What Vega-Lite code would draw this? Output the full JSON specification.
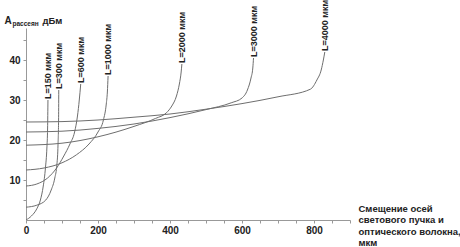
{
  "$schema": "https://vega.github.io/schema/vega-lite/v6.json",
  "width": 324,
  "height": 192,
  "autosize": {"type": "none"},
  "padding": {"left": 26, "top": 28, "right": 110, "bottom": 27},
  "background": "white",
  "config": {"view": {"stroke": null}, "font": "Liberation Sans"},
  "datasets": {
    "curves": [
      {"L": "150", "x": 0, "y": 0}, {"L": "150", "x": 15, "y": 1}, {"L": "150", "x": 30, "y": 2.8}, {"L": "150", "x": 40, "y": 5}, {"L": "150", "x": 48, "y": 8.5}, {"L": "150", "x": 54, "y": 13}, {"L": "150", "x": 58, "y": 18}, {"L": "150", "x": 60, "y": 23}, {"L": "150", "x": 61, "y": 30},
      {"L": "300", "x": 0, "y": 3.2}, {"L": "300", "x": 30, "y": 3.7}, {"L": "300", "x": 55, "y": 5}, {"L": "300", "x": 70, "y": 7.5}, {"L": "300", "x": 80, "y": 10.5}, {"L": "300", "x": 86, "y": 14}, {"L": "300", "x": 89, "y": 19}, {"L": "300", "x": 90.5, "y": 25}, {"L": "300", "x": 91, "y": 32.5},
      {"L": "600", "x": 0, "y": 8.5}, {"L": "600", "x": 30, "y": 9}, {"L": "600", "x": 60, "y": 10.5}, {"L": "600", "x": 85, "y": 13}, {"L": "600", "x": 105, "y": 16}, {"L": "600", "x": 122, "y": 19}, {"L": "600", "x": 135, "y": 22}, {"L": "600", "x": 143, "y": 26}, {"L": "600", "x": 148, "y": 30}, {"L": "600", "x": 152, "y": 34},
      {"L": "1000", "x": 0, "y": 12.5}, {"L": "1000", "x": 50, "y": 13}, {"L": "1000", "x": 100, "y": 14.3}, {"L": "1000", "x": 140, "y": 16.3}, {"L": "1000", "x": 175, "y": 19}, {"L": "1000", "x": 200, "y": 22}, {"L": "1000", "x": 215, "y": 25}, {"L": "1000", "x": 223, "y": 29}, {"L": "1000", "x": 226, "y": 32}, {"L": "1000", "x": 228, "y": 36},
      {"L": "2000", "x": 0, "y": 18.7}, {"L": "2000", "x": 100, "y": 19.2}, {"L": "2000", "x": 200, "y": 20.8}, {"L": "2000", "x": 300, "y": 23.4}, {"L": "2000", "x": 360, "y": 25.4}, {"L": "2000", "x": 390, "y": 26.8}, {"L": "2000", "x": 405, "y": 28.5}, {"L": "2000", "x": 418, "y": 31}, {"L": "2000", "x": 426, "y": 34}, {"L": "2000", "x": 431, "y": 37}, {"L": "2000", "x": 433, "y": 39},
      {"L": "3000", "x": 0, "y": 22}, {"L": "3000", "x": 100, "y": 22.2}, {"L": "3000", "x": 200, "y": 22.9}, {"L": "3000", "x": 300, "y": 24}, {"L": "3000", "x": 400, "y": 25.6}, {"L": "3000", "x": 500, "y": 27.6}, {"L": "3000", "x": 570, "y": 29.3}, {"L": "3000", "x": 600, "y": 30.5}, {"L": "3000", "x": 615, "y": 32.5}, {"L": "3000", "x": 625, "y": 35.5}, {"L": "3000", "x": 630, "y": 38}, {"L": "3000", "x": 632, "y": 40.5},
      {"L": "4000", "x": 0, "y": 24.5}, {"L": "4000", "x": 100, "y": 24.6}, {"L": "4000", "x": 200, "y": 25}, {"L": "4000", "x": 300, "y": 25.7}, {"L": "4000", "x": 400, "y": 26.5}, {"L": "4000", "x": 500, "y": 27.7}, {"L": "4000", "x": 600, "y": 29.1}, {"L": "4000", "x": 700, "y": 30.8}, {"L": "4000", "x": 790, "y": 32.7}, {"L": "4000", "x": 808, "y": 35}, {"L": "4000", "x": 820, "y": 37.5}, {"L": "4000", "x": 826, "y": 40}, {"L": "4000", "x": 830, "y": 42}
    ],
    "labels": [
      {"label": "L=150 мкм", "x": 61, "y": 30},
      {"label": "L=300 мкм", "x": 91, "y": 32.5},
      {"label": "L=600 мкм", "x": 152, "y": 34},
      {"label": "L=1000 мкм", "x": 228, "y": 36},
      {"label": "L=2000 мкм", "x": 433, "y": 39},
      {"label": "L=3000 мкм", "x": 632, "y": 40.5},
      {"label": "L=4000 мкм", "x": 830, "y": 42}
    ]
  },
  "layer": [
    {
      "data": {"name": "curves"},
      "mark": {"type": "line", "interpolate": "monotone", "color": "#6e6e6e", "strokeWidth": 1},
      "encoding": {
        "x": {
          "field": "x", "type": "quantitative",
          "scale": {"domain": [0, 900], "nice": false, "zero": false},
          "axis": {
            "values": [0, 50, 100, 150, 200, 250, 300, 350, 400, 450, 500, 550, 600, 650, 700, 750, 800, 850, 900],
            "labelExpr": "datum.value % 200 === 0 ? datum.label : ''",
            "grid": false, "domainColor": "#999999", "tickColor": "#999999", "tickSize": 3,
            "labelFont": "Liberation Sans", "labelFontSize": 10, "labelFontWeight": "bold", "labelColor": "#222222",
            "labelPadding": 2, "labelFlush": false, "labelOverlap": false,
            "title": ["Смещение осей", "светового пучка и", "оптического волокна,", "мкм"],
            "titleX": 332, "titleY": -17, "titleAlign": "left", "titleBaseline": "top", "titleAngle": 0,
            "titleFont": "Liberation Sans", "titleFontSize": 9.5, "titleFontWeight": "bold", "titleLineHeight": 11.5, "titleColor": "#222222"
          }
        },
        "y": {
          "field": "y", "type": "quantitative",
          "scale": {"domain": [0, 48], "nice": false},
          "axis": {
            "values": [5, 10, 15, 20, 25, 30, 35, 40, 45],
            "labelExpr": "datum.value % 10 === 0 ? datum.label : ''",
            "grid": false, "domainColor": "#999999", "tickColor": "#999999", "tickSize": 3,
            "labelFont": "Liberation Sans", "labelFontSize": 10, "labelFontWeight": "bold", "labelColor": "#222222",
            "labelPadding": 3,
            "title": "A", "titleX": -22, "titleY": -5, "titleAngle": 0, "titleAlign": "left", "titleBaseline": "alphabetic",
            "titleFont": "Liberation Sans", "titleFontSize": 10, "titleFontWeight": "bold", "titleColor": "#222222"
          }
        },
        "detail": {"field": "L", "type": "nominal"}
      }
    },
    {
      "data": {"name": "labels"},
      "mark": {"type": "text", "angle": 270, "align": "left", "baseline": "middle", "fontSize": 9, "fontWeight": "bold", "font": "Liberation Sans", "color": "#222222", "dx": 1},
      "encoding": {
        "x": {
          "field": "x", "type": "quantitative",
          "axis": {
            "orient": "top", "domain": false, "ticks": false, "labels": false, "grid": false,
            "title": "дБм", "titleX": 16, "titleY": -5, "titleAngle": 0, "titleAlign": "left", "titleBaseline": "alphabetic",
            "titleFont": "Liberation Sans", "titleFontSize": 9.5, "titleFontWeight": "bold", "titleColor": "#222222"
          }
        },
        "y": {
          "field": "y", "type": "quantitative",
          "axis": {
            "orient": "right", "domain": false, "ticks": false, "labels": false, "grid": false,
            "title": "рассеян", "titleX": -338, "titleY": -3, "titleAngle": 0, "titleAlign": "left", "titleBaseline": "alphabetic",
            "titleFont": "Liberation Sans", "titleFontSize": 6.5, "titleFontWeight": "bold", "titleColor": "#222222"
          }
        },
        "text": {"field": "label"}
      }
    }
  ],
  "resolve": {"axis": {"x": "independent", "y": "independent"}}
}
